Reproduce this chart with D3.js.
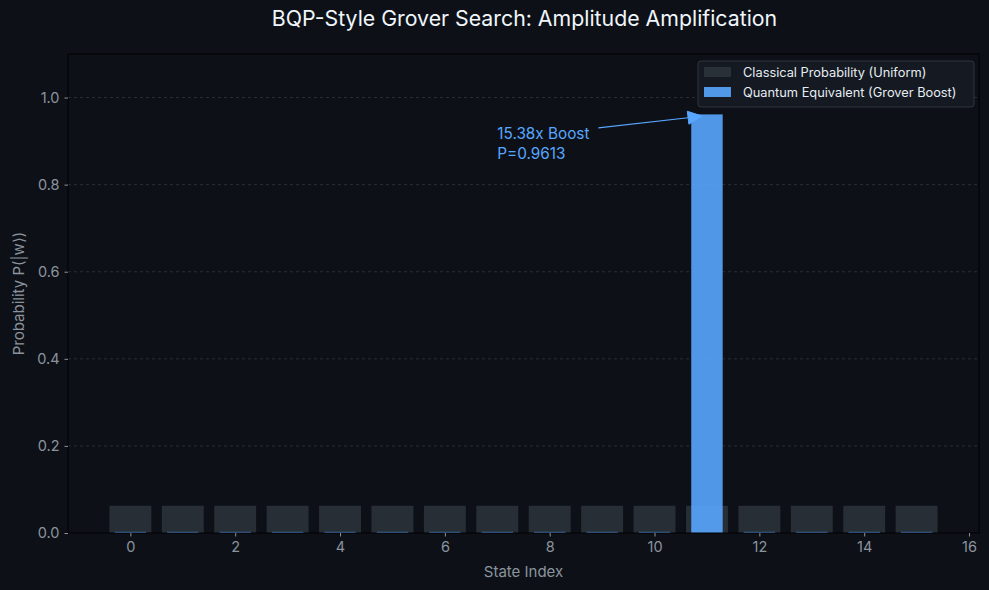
<!DOCTYPE html>
<html>
<head>
<meta charset="utf-8">
<script src="https://cdn.jsdelivr.net/npm/d3@7"></script>
<style>
  html, body { margin: 0; padding: 0; background: #0d1117; }
  svg { display: block; font-family: Inter, Roboto, "Open Sans", sans-serif; }
</style>
</head>
<body>
<svg id="chart" width="989" height="590"></svg>
<script>
// state indices 0..15, target is 11
const states = d3.range(16);
const targetIndex = 11;
const targetProb = 0.9613;
const classicalProb = states.map(() => 1 / 16);
const quantumProb = states.map(i => i === targetIndex ? targetProb : (1 - targetProb) / 15);
const xTicks = [0, 2, 4, 6, 8, 10, 12, 14, 16];
const yTicks = [0.0, 0.2, 0.4, 0.6, 0.8, 1.0];
const boostLabel = ["15.38x Boost", "P=0.9613"];
const legendLabels = ["Classical Probability (Uniform)", "Quantum Equivalent (Grover Boost)"];

const width = 989, height = 590;
const margin = {top: 54, right: 10, bottom: 57, left: 68};

const svg = d3.select("#chart");
svg.append("rect").attr("width", width).attr("height", height).attr("fill", "#0d1117");

const x = d3.scaleLinear().domain([-1.19, 16.19]).range([margin.left, width - margin.right]);
const y = d3.scaleLinear().domain([0, 1.1]).range([height - margin.bottom, margin.top]);

// grid
svg.append("g")
    .selectAll("line")
    .data(yTicks.filter(d => d > 0))
    .join("line")
    .attr("x1", margin.left).attr("x2", width - margin.right)
    .attr("y1", d => y(d)).attr("y2", d => y(d))
    .attr("stroke", "#30363d").attr("stroke-width", 0.8)
    .attr("stroke-dasharray", "3,3");

const unit = x(1) - x(0);

// classical bars
svg.append("g")
    .selectAll("rect")
    .data(states)
    .join("rect")
    .attr("x", d => x(d - 0.4))
    .attr("width", unit * 0.8)
    .attr("y", d => y(classicalProb[d]))
    .attr("height", d => y(0) - y(classicalProb[d]))
    .attr("fill", "#30363d").attr("fill-opacity", 0.8);

// quantum bars
svg.append("g")
    .selectAll("rect")
    .data(states)
    .join("rect")
    .attr("x", d => x(d - 0.3))
    .attr("width", unit * 0.6)
    .attr("y", d => y(quantumProb[d]))
    .attr("height", d => y(0) - y(quantumProb[d]))
    .attr("fill", "#58a6ff").attr("fill-opacity", 0.9);

// frame
svg.append("rect")
    .attr("x", margin.left).attr("y", margin.top)
    .attr("width", width - margin.left - margin.right)
    .attr("height", height - margin.top - margin.bottom)
    .attr("fill", "none").attr("stroke", "#000").attr("stroke-width", 1);

const tickColor = "#8b949e";

const xAxis = svg.append("g")
    .attr("transform", `translate(0,${height - margin.bottom})`)
    .call(d3.axisBottom(x).tickValues(xTicks).tickSize(3.5).tickPadding(5).tickFormat(d3.format("d")));
const yAxis = svg.append("g")
    .attr("transform", `translate(${margin.left},0)`)
    .call(d3.axisLeft(y).tickValues(yTicks).tickSize(3.5).tickPadding(5).tickFormat(d3.format(".1f")));
[xAxis, yAxis].forEach(g => {
    g.select(".domain").remove();
    g.selectAll(".tick line").attr("stroke", tickColor);
    g.selectAll(".tick text").attr("fill", tickColor).attr("font-size", 14.5).attr("font-family", "Inter, Roboto, sans-serif");
});

// axis labels
svg.append("text")
    .attr("x", (margin.left + width - margin.right) / 2).attr("y", 577)
    .attr("text-anchor", "middle").attr("fill", tickColor).attr("font-size", 15)
    .text("State Index");
svg.append("text")
    .attr("transform", `translate(24,${(margin.top + height - margin.bottom) / 2}) rotate(-90)`)
    .attr("text-anchor", "middle").attr("fill", tickColor).attr("font-size", 15)
    .text("Probability P(|w⟩)");

// title
svg.append("text")
    .attr("x", (margin.left + width - margin.right) / 2 + 1).attr("y", 26)
    .attr("text-anchor", "middle").attr("fill", "#f0f6fc").attr("font-size", 21.3)
    .text("BQP-Style Grover Search: Amplitude Amplification");

// annotation
const tx = x(7), ty = y(0.85);
const ann = svg.append("text")
    .attr("x", tx).attr("y", ty - 24)
    .attr("fill", "#58a6ff").attr("font-size", 15.3);
ann.selectAll("tspan").data(boostLabel).join("tspan")
    .attr("x", tx).attr("dy", (d, i) => i ? 20 : 0)
    .text(d => d);
const bb = ann.node().getBBox();
const sx = bb.x + bb.width + 9, sy = bb.y + 4;
const ex = x(targetIndex), ey = y(targetProb);
const len = Math.hypot(ex - sx, ey - sy);
const ux = (ex - sx) / len, uy = (ey - sy) / len;
const tipX = ex - ux * 5, tipY = ey - uy * 5 + 1;
const headLen = 14, headW = 6.5;
const bx = tipX - ux * headLen, by = tipY - uy * headLen;
svg.append("line")
    .attr("x1", sx).attr("y1", sy).attr("x2", bx).attr("y2", by)
    .attr("stroke", "#58a6ff").attr("stroke-width", 1.2);
svg.append("path")
    .attr("d", `M${tipX},${tipY}L${bx - uy * headW},${by + ux * headW}L${bx + uy * headW},${by - ux * headW}Z`)
    .attr("fill", "#58a6ff").attr("stroke", "#58a6ff").attr("stroke-width", 1);

// legend
const lg = svg.append("g").attr("transform", "translate(698,61)");
lg.append("rect").attr("width", 276).attr("height", 46).attr("rx", 3)
    .attr("fill", "#161b22").attr("fill-opacity", 0.9).attr("stroke", "#30363d");
const legendColors = [["#30363d", 0.8], ["#58a6ff", 0.9]];
legendLabels.forEach((t, i) => {
    const row = lg.append("g").attr("transform", `translate(6,${11 + i * 20})`);
    row.append("rect").attr("width", 27).attr("height", 10).attr("y", -5)
        .attr("fill", legendColors[i][0]).attr("fill-opacity", legendColors[i][1]);
    row.append("text").attr("x", 39).attr("y", 5)
        .attr("fill", "#e6edf3").attr("font-size", 12.8).text(t);
});
</script>
</body>
</html>
